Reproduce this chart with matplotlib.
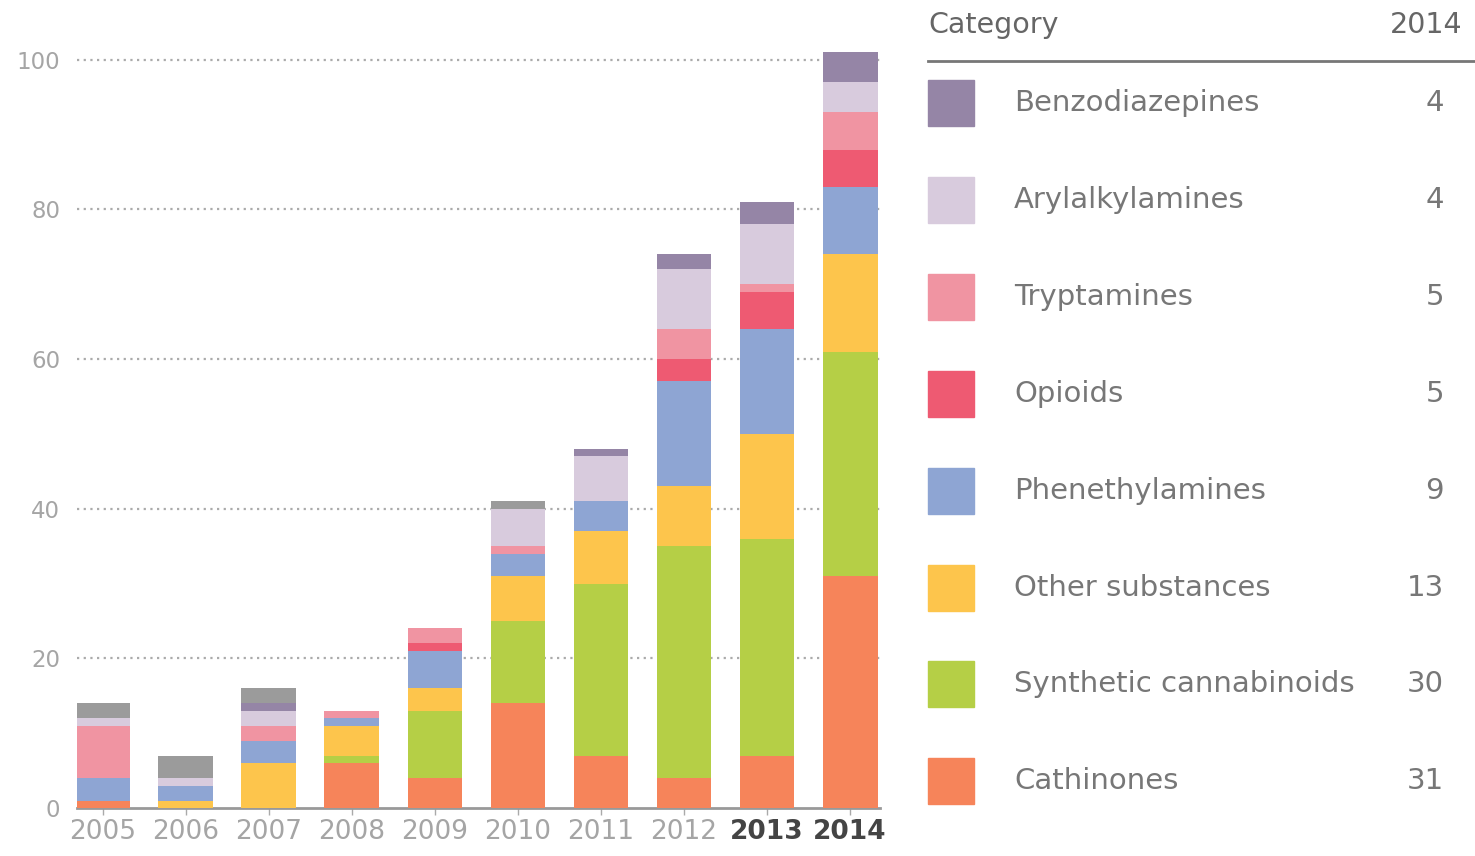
import matplotlib.pyplot as plt
from matplotlib.patches import Rectangle
import numpy as np

years = ['2005', '2006', '2007', '2008', '2009', '2010', '2011', '2012', '2013', '2014']

# stacked from the bottom up
cathinones = [1, 0, 0, 6, 4, 14, 7, 4, 7, 31]
cannabinoids = [0, 0, 0, 1, 9, 11, 23, 31, 29, 30]
other = [0, 1, 6, 4, 3, 6, 7, 8, 14, 13]
phenethylamines = [3, 2, 3, 1, 5, 3, 4, 14, 14, 9]
opioids = [0, 0, 0, 0, 1, 0, 0, 3, 5, 5]
tryptamines = [7, 0, 2, 1, 2, 1, 0, 4, 1, 5]
arylalkylamines = [1, 1, 2, 0, 0, 5, 6, 8, 8, 4]
benzodiazepines = [0, 0, 1, 0, 0, 0, 1, 2, 3, 4]
unclassified = [2, 3, 2, 0, 0, 1, 0, 0, 0, 0]

names = ['Cathinones', 'Synthetic cannabinoids', 'Other substances', 'Phenethylamines',
         'Opioids', 'Tryptamines', 'Arylalkylamines', 'Benzodiazepines']
series = [cathinones, cannabinoids, other, phenethylamines,
          opioids, tryptamines, arylalkylamines, benzodiazepines]
colors = ['#f6845a', '#b5cf46', '#fdc54c', '#8ea5d3',
          '#ee5a72', '#f094a2', '#d8cbdd', '#9585a6']

W, H = 1475, 856
fig = plt.figure(figsize=(W / 100, H / 100), dpi=100)
ax = fig.add_axes([77 / W, (H - 808) / H, (880 - 77) / W, 758 / H])

x = np.arange(len(years))
bottom = np.zeros(len(years))
for vals, col in zip(series, colors):
    ax.bar(x, vals, 0.66, bottom=bottom, color=col, zorder=3)
    bottom += np.array(vals)
ax.bar(x, unclassified, 0.66, bottom=bottom, color='#9b9b9b', zorder=3)

ax.set_xlim(-0.31, 9.36)
ax.set_ylim(0, 101.3)
ax.set_yticks([0, 20, 40, 60, 80, 100])
for yv in [20, 40, 60, 80, 100]:
    ax.axhline(yv, color='#aaaaaa', lw=1.6, ls=(0, (1, 2)), zorder=1)

for s in ['top', 'right', 'left']:
    ax.spines[s].set_visible(False)
ax.spines['bottom'].set_color('#999999')
ax.spines['bottom'].set_linewidth(2)
ax.tick_params(axis='y', length=0, pad=12, labelsize=16.5, labelcolor='#a5a5a5')
ax.tick_params(axis='x', length=5, width=1, color='#aaaaaa', pad=3,
               labelsize=19, labelcolor='#a5a5a5')
ax.set_xticks(x)
ax.set_xticklabels(years)
for lab in ax.get_xticklabels()[-2:]:
    lab.set_fontweight('bold')
    lab.set_color('#444444')

# legend table on the right, in pixel coordinates
lg = fig.add_axes([0, 0, 1, 1])
lg.set_xlim(0, W)
lg.set_ylim(H, 0)
lg.axis('off')
lg.text(928, 25, 'Category', fontsize=20.5, color='#666666', va='center', ha='left')
lg.text(1462, 25, '2014', fontsize=20.5, color='#666666', va='center', ha='right')
lg.plot([928, 1475], [61, 61], color='#777777', lw=2)

row_y = 103
for name, vals, col in zip(names[::-1], series[::-1], colors[::-1]):
    lg.add_patch(Rectangle((928, row_y - 23), 46, 46, color=col))
    lg.text(1014, row_y, name, fontsize=21, color='#777777', va='center', ha='left')
    lg.text(1444, row_y, str(vals[-1]), fontsize=21, color='#777777', va='center', ha='right')
    row_y += 96.9

fig.savefig('out.png', dpi=100)
